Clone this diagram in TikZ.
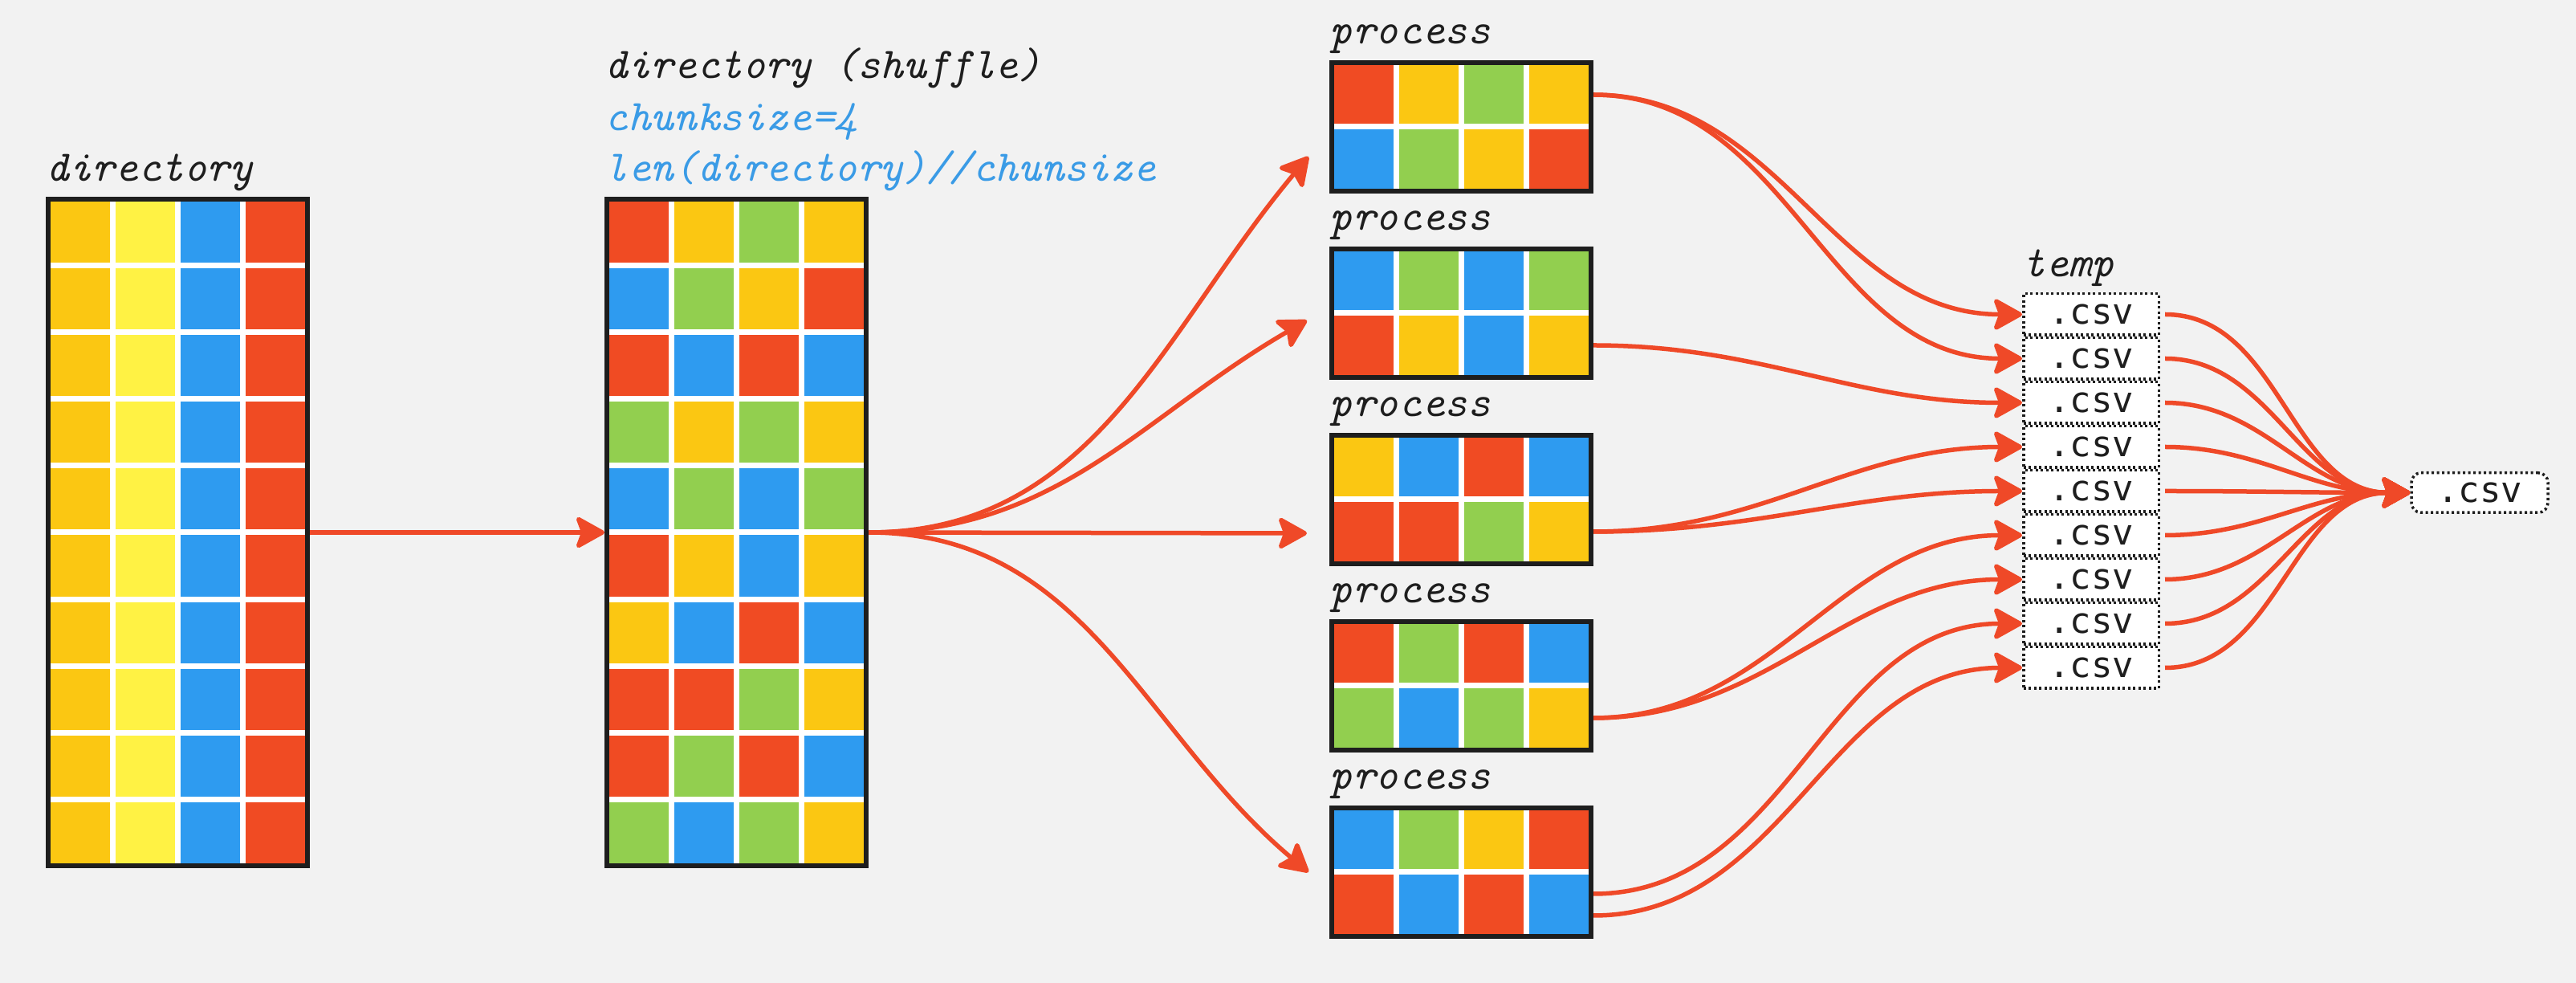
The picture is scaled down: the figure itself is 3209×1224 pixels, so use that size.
\documentclass[tikz,border=0pt]{standalone}
\usepackage{fontspec}
\newfontfamily\csvfont{DejaVu Sans Mono}
\usetikzlibrary{arrows.meta,positioning}

\definecolor{bg}{HTML}{F2F2F2}
\definecolor{ink}{HTML}{1E1E1E}
\definecolor{rd}{HTML}{F04B23}
\definecolor{yl}{HTML}{FBC712}
\definecolor{lm}{HTML}{FFF244}
\definecolor{bl}{HTML}{2E9BF0}
\definecolor{gn}{HTML}{92CF4F}
\definecolor{txtblue}{HTML}{3A9BE6}
\definecolor{arr}{HTML}{EF4928}

% coloured cells of a chunk: x0, y0 (inner top left), cell width, cell height, rows
\newcommand{\cellgrid}[5]{%
  \foreach \cellrow [count=\ri from 0] in {#5} {
    \foreach \cellcol [count=\ci from 0] in \cellrow {
      \fill[\cellcol] ({#1+\ci*(#3+7)},{#2+\ri*(#4+7)}) rectangle ++(#3,#4);
    }
  }%
}

\tikzset{
  gridbox/.style={draw=ink, line width=0.6mm, fill=white, minimum width=32.3mm, inner sep=0pt},
  lbl/.style={anchor=base west, inner sep=0pt, text=ink, font=\fontsize{15.5}{18}\selectfont\ttfamily\itshape},
  blu/.style={lbl, text=txtblue},
  csvbox/.style={draw=ink, line width=0.35mm, dash pattern=on 0.3mm off 0.35mm, fill=white,
    minimum width=16.85mm, minimum height=5.15mm, inner sep=0pt, text=ink,
    font=\fontsize{12.5}{14}\selectfont\csvfont},
  flow/.style={draw=arr, line width=0.55mm, -{Stealth[length=4mm,width=4.4mm,inset=0.8mm,round]}}
}

\begin{document}
\begin{tikzpicture}[x=0.1mm, y=-0.1mm]
\fill[bg] (0,0) rectangle (3209,1224);
\useasboundingbox (0,0) rectangle (3209,1224);

% directory
\node[gridbox, minimum height=83mm] (dir) at (221.5,663) {};
\cellgrid{63}{251}{74}{76.1}{{yl,lm,bl,rd},{yl,lm,bl,rd},{yl,lm,bl,rd},{yl,lm,bl,rd},{yl,lm,bl,rd},
  {yl,lm,bl,rd},{yl,lm,bl,rd},{yl,lm,bl,rd},{yl,lm,bl,rd},{yl,lm,bl,rd}}
\node[lbl] (ldir) at (57,226) {directory};

% shuffled directory
\node[gridbox, minimum height=83mm] (shuf) at (917.5,663) {};
\cellgrid{759}{251}{74}{76.1}{{rd,yl,gn,yl},{bl,gn,yl,rd},{rd,bl,rd,bl},{gn,yl,gn,yl},{bl,gn,bl,gn},
  {rd,yl,bl,yl},{yl,bl,rd,bl},{rd,rd,gn,yl},{rd,gn,rd,bl},{gn,bl,gn,yl}}
\node[lbl] (lshuf) at (753,98) {directory (shuffle)};
\node[blu] (lchunk) at (753,163) {chunksize=4};
\node[blu] (llen) at (753,226) {len(directory)//chunsize};

% processes
\node[gridbox, minimum height=16mm] (p1) at (1820.5,158) {};
\node[gridbox, minimum height=16mm] (p2) at (1820.5,390) {};
\node[gridbox, minimum height=16mm] (p3) at (1820.5,622) {};
\node[gridbox, minimum height=16mm] (p4) at (1820.5,854) {};
\node[gridbox, minimum height=16mm] (p5) at (1820.5,1086) {};
\cellgrid{1662}{81}{74}{73.5}{{rd,yl,gn,yl},{bl,gn,yl,rd}}
\cellgrid{1662}{313}{74}{73.5}{{bl,gn,bl,gn},{rd,yl,bl,yl}}
\cellgrid{1662}{545}{74}{73.5}{{yl,bl,rd,bl},{rd,rd,gn,yl}}
\cellgrid{1662}{777}{74}{73.5}{{rd,gn,rd,bl},{gn,bl,gn,yl}}
\cellgrid{1662}{1009}{74}{73.5}{{bl,gn,yl,rd},{rd,bl,rd,bl}}
\foreach \i in {1,...,5}
  \node[lbl] (lp\i) at ([yshift=2mm]p\i.north west) {process};

% temp files
\node[csvbox] (t1) at (2605,391.5) {.csv};
\foreach \i [count=\j from 1] in {2,...,9}
  \node[csvbox, below=0pt of t\j] (t\i) {.csv};
\node[lbl] (ltemp) at ([yshift=1.9mm]t1.north west) {temp};
\node[csvbox, rounded corners=1.2mm, minimum width=17mm, minimum height=4.95mm] (fin) at (3089,613.5) {.csv};

% connectors
\draw[flow] (dir.east) -- (shuf.west);
\draw[flow] (shuf.east) to[out=0,in=230] ([xshift=-2.6mm,yshift=-3.7mm]p1.west);
\draw[flow] (shuf.east) to[out=0,in=210] ([xshift=-2.8mm,yshift=-0.9mm]p2.west);
\draw[flow] (shuf.east) -- ([xshift=-2.8mm,yshift=-4.2mm]p3.west);
\draw[flow] (shuf.east) to[out=0,in=140] ([xshift=-2.6mm]p5.west);

\draw[flow] ([yshift=4mm]p1.east) to[out=0,in=180] (t1.west);
\draw[flow] ([yshift=4mm]p1.east) to[out=0,in=180] (t2.west);
\draw[flow] ([yshift=-4mm]p2.east) to[out=0,in=180] (t3.west);
\draw[flow] ([yshift=-4mm]p3.east) to[out=0,in=180] (t4.west);
\draw[flow] ([yshift=-4mm]p3.east) to[out=0,in=180] (t5.west);
\draw[flow] ([yshift=-4mm]p4.east) to[out=0,in=180] (t6.west);
\draw[flow] ([yshift=-4mm]p4.east) to[out=0,in=180] (t7.west);
\draw[flow] ([yshift=-2.7mm]p5.east) to[out=0,in=180] (t8.west);
\draw[flow] ([yshift=-5.4mm]p5.east) to[out=0,in=180] (t9.west);

\foreach \i in {1,...,9}
  \draw[flow, shorten <=0.6mm] (t\i.east) to[out=0,in=180] (fin.west);
\end{tikzpicture}
\end{document}
